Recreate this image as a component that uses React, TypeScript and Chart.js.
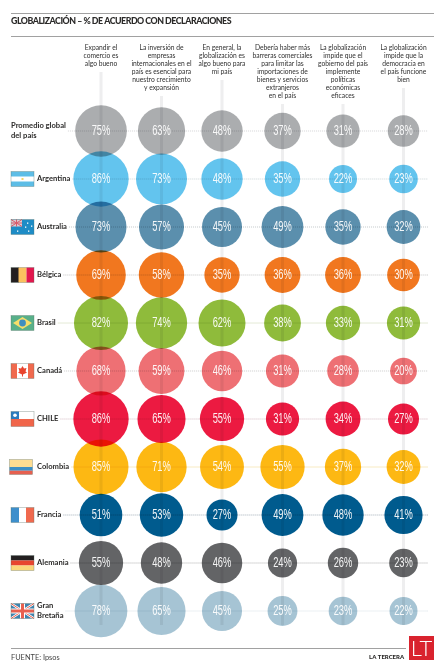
import React, { useEffect, useRef } from "react";
import { Chart, registerables } from "chart.js";

Chart.register(...registerables);

const questions: string[][] = [
  ["Expandir el", "comercio es", "algo bueno"],
  ["La inversión de", "empresas", "internacionales en el", "país es esencial para", "nuestro crecimiento", "y expansión"],
  ["En general, la", "globalización es", "algo bueno para", "mi país"],
  ["Debería haber más", "barreras comerciales", "para limitar las", "importaciones de", "bienes y servicios", "extranjeros", "en el país"],
  ["La globalización", "impide que el", "gobierno del país", "implemente", "políticas", "económicas", "eficaces"],
  ["La globalización", "impide que la", "democracia en", "el país funcione", "bien"],
];
const questionKeys = ["q1", "q2", "q3", "q4", "q5", "q6"];

const countries = ["Promedio global del país", "Argentina", "Australia", "Bélgica", "Brasil", "Canadá", "CHILE", "Colombia", "Francia", "Alemania", "Gran Bretaña"];

const promedio = [75, 63, 48, 37, 31, 28];
const argentina = [86, 73, 48, 35, 22, 23];
const australia = [73, 57, 45, 49, 35, 32];
const belgica = [69, 58, 35, 36, 36, 30];
const brasil = [82, 74, 62, 38, 33, 31];
const canada = [68, 59, 46, 31, 28, 20];
const chile = [86, 65, 55, 31, 34, 27];
const colombia = [85, 71, 54, 55, 37, 32];
const francia = [51, 53, 27, 49, 48, 41];
const alemania = [55, 48, 46, 24, 26, 23];
const granBretana = [78, 65, 45, 25, 23, 22];
const rows = [promedio, argentina, australia, belgica, brasil, canada, chile, colombia, francia, alemania, granBretana];

const colors = ["#ABADAF", "#63C4EE", "#5B8FAD", "#F1771F", "#8FBB3B", "#EE7074", "#EC1A41", "#FDB813", "#005B8E", "#636466", "#A6C4D4"];
const rowLabelLines = [["Promedio global", "del país"], ["Argentina"], ["Australia"], ["Bélgica"], ["Brasil"], ["Canadá"], ["CHILE"], ["Colombia"], ["Francia"], ["Alemania"], ["Gran", "Bretaña"]];
const lineColors = ["#C9CACC", "#BFC8CC", "#B5BABD", "#B5B5B5", "#DDE5CB", "#BDBDBD", "#C9A9B2", "#F6E6B4", "#8C9AA6", "#9A9A9A", "#CBD8DF"];
const lineDotted = [true, true, true, true, false, true, true, false, true, true, true];

const SANS = "Lato, 'Noto Sans', sans-serif";

function rect(c: CanvasRenderingContext2D, x: number, y: number, w: number, h: number, fill: string) {
  c.fillStyle = fill;
  c.fillRect(x, y, w, h);
}

function drawFlag(c: CanvasRenderingContext2D, i: number, x: number, y: number) {
  const w = 23;
  const h = 15;
  c.save();
  switch (i) {
    case 1:
      rect(c, x, y, w, h, "#5DBDE6");
      rect(c, x, y + 5, w, 5, "#FFFFFF");
      rect(c, x + 10.5, y + 6.5, 2, 2, "#F5D36B");
      break;
    case 2:
      rect(c, x, y, w, h, "#1E8CC6");
      rect(c, x, y, 11, 7, "#D9CBD2");
      c.strokeStyle = "#D85A6A";
      c.lineWidth = 1;
      c.beginPath();
      c.moveTo(x, y);
      c.lineTo(x + 11, y + 7);
      c.moveTo(x + 11, y);
      c.lineTo(x, y + 7);
      c.moveTo(x + 5.5, y);
      c.lineTo(x + 5.5, y + 7);
      c.moveTo(x, y + 3.5);
      c.lineTo(x + 11, y + 3.5);
      c.stroke();
      c.fillStyle = "#FFFFFF";
      [[16, 3], [20, 6], [17, 11], [14, 7], [6, 11]].forEach(([a, b]) => c.fillRect(x + a, y + b, 1.3, 1.3));
      break;
    case 3:
      rect(c, x, y, 8, h, "#231F20");
      rect(c, x + 7.5, y, 8, h, "#FBC05F");
      rect(c, x + 15.5, y, 7.5, h, "#E2174E");
      break;
    case 4:
      rect(c, x, y, w, h, "#58B08A");
      c.fillStyle = "#F7DE6A";
      c.beginPath();
      c.moveTo(x + 2, y + 7.5);
      c.lineTo(x + 11.5, y + 1.5);
      c.lineTo(x + 21, y + 7.5);
      c.lineTo(x + 11.5, y + 13.5);
      c.fill();
      c.fillStyle = "#3F8FC0";
      c.beginPath();
      c.arc(x + 11.5, y + 7.5, 3.4, 0, Math.PI * 2);
      c.fill();
      break;
    case 5:
      rect(c, x, y, w, h, "#FFFFFF");
      rect(c, x, y, 6, h, "#F06A4E");
      rect(c, x + 17, y, 6, h, "#F06A4E");
      c.fillStyle = "#E8452F";
      c.beginPath();
      c.moveTo(x + 11.5, y + 2.5);
      c.lineTo(x + 13, y + 5);
      c.lineTo(x + 15.5, y + 4.5);
      c.lineTo(x + 14.5, y + 8);
      c.lineTo(x + 16, y + 9);
      c.lineTo(x + 12, y + 11);
      c.lineTo(x + 12, y + 13);
      c.lineTo(x + 11, y + 13);
      c.lineTo(x + 11, y + 11);
      c.lineTo(x + 7, y + 9);
      c.lineTo(x + 8.5, y + 8);
      c.lineTo(x + 7.5, y + 4.5);
      c.lineTo(x + 10, y + 5);
      c.fill();
      break;
    case 6:
      rect(c, x, y, w, 7.5, "#FFFFFF");
      rect(c, x, y + 7.5, w, 7.5, "#F0654A");
      rect(c, x, y, 8, 7.5, "#2A7CBF");
      c.fillStyle = "#FFFFFF";
      c.beginPath();
      c.arc(x + 4, y + 3.7, 1.8, 0, Math.PI * 2);
      c.fill();
      break;
    case 7:
      rect(c, x - 1.5, y, w, 7.5, "#FDDD92");
      rect(c, x - 1.5, y + 7.5, w, 3.75, "#3D8FC4");
      rect(c, x - 1.5, y + 11.25, w, 3.75, "#E6604F");
      break;
    case 8:
      rect(c, x, y, 8, h, "#3D8FCC");
      rect(c, x + 8, y, 7, h, "#FFFFFF");
      rect(c, x + 15, y, 8, h, "#F0694E");
      break;
    case 9:
      rect(c, x, y, w, 5, "#231F20");
      rect(c, x, y + 5, w, 5, "#E8452F");
      rect(c, x, y + 10, w, 5, "#FBD67B");
      break;
    case 10:
      rect(c, x, y, w, h, "#3E83AE");
      c.strokeStyle = "#FFFFFF";
      c.lineWidth = 2.4;
      c.beginPath();
      c.moveTo(x, y);
      c.lineTo(x + w, y + h);
      c.moveTo(x + w, y);
      c.lineTo(x, y + h);
      c.stroke();
      c.strokeStyle = "#E8604F";
      c.lineWidth = 1;
      c.stroke();
      rect(c, x + 9, y, 5, h, "#FFFFFF");
      rect(c, x, y + 5, w, 5, "#FFFFFF");
      rect(c, x + 10, y, 3, h, "#E8604F");
      rect(c, x, y + 6, w, 3, "#E8604F");
      break;
    default:
      break;
  }
  if (i !== 0) {
    c.strokeStyle = "rgba(90,110,100,0.55)";
    c.lineWidth = 0.6;
    c.strokeRect(i === 7 ? x - 1.5 : x, y, w, h);
  }
  c.restore();
}

const furniture = {
  id: "furniture",
  beforeDraw(chart: Chart) {
    const c = chart.ctx;
    c.save();
    rect(c, 0, 0, 441, 667, "#FFFFFF");
    rect(c, 11, 13, 423, 0.8, "#8A8A8A");
    rect(c, 11, 36, 423, 0.8, "#8A8A8A");
    rect(c, 11, 648, 395, 0.8, "#8A8A8A");
    c.textBaseline = "middle";
    c.fillStyle = "#2B2A29";
    c.font = `900 8.8px ${SANS}`;
    (c as any).letterSpacing = "-0.48px";
    c.fillText("GLOBALIZACIÓN – % DE ACUERDO CON DECLARACIONES", 11, 21);
    (c as any).letterSpacing = "0px";
    c.font = `400 7.4px ${SANS}`;
    c.fillStyle = "#444444";
    c.fillText("FUENTE: Ipsos", 11, 657.5);
    c.font = `900 6px ${SANS}`;
    c.fillStyle = "#2B2A29";
    c.fillText("LA TERCERA", 369, 657.5);
    rect(c, 409, 636, 25, 24, "#D9232E");
    c.font = `300 22px ${SANS}`;
    c.fillStyle = "#FFFFFF";
    c.textAlign = "center";
    c.fillText("LT", 421.5, 649);
    c.restore();

    // row lines, flags and names follow the y scale
    const y = chart.scales.y;
    const xs = chart.scales.x;
    c.save();
    countries.forEach((name, i) => {
      const py = y.getPixelForValue(i);
      const lines = rowLabelLines[i];
      const lx = i === 0 ? 11 : 37;
      c.font = `700 7.6px ${SANS}`;
      const tw = Math.max(...lines.map((t) => c.measureText(t).width));
      c.strokeStyle = lineColors[i];
      c.lineWidth = 0.8;
      c.setLineDash(lineDotted[i] ? [1, 1] : []);
      c.beginPath();
      c.moveTo(lx + tw + 2, py);
      c.lineTo(428, py);
      c.stroke();
      c.setLineDash([]);
      drawFlag(c, i, 11, py - 7.5);
      c.fillStyle = "#2B2A29";
      c.textBaseline = "middle";
      c.textAlign = "left";
      lines.forEach((t, k) => c.fillText(t, lx, py + (k - (lines.length - 1) / 2) * 10.5 - 0.5));
    });
    c.restore();

    // pale vertical bands start under each question's last text line
    c.save();
    c.strokeStyle = "#EEEEEF";
    c.lineWidth = 3;
    const bottomPx = y.getPixelForValue(countries.length - 1) + 14;
    questionKeys.forEach((k, i) => {
      const px = xs.getPixelForValue(i);
      c.beginPath();
      c.moveTo(px, 43 + questions[i].length * 8 + 5);
      c.lineTo(px, bottomPx);
      c.stroke();
    });
    c.restore();
  },
  beforeDatasetDraw(chart: Chart) {
    chart.ctx.save();
    chart.ctx.globalCompositeOperation = "multiply";
  },
  afterDatasetDraw(chart: Chart) {
    chart.ctx.restore();
  },
  afterDatasetsDraw(chart: Chart) {
    const c = chart.ctx;
    c.save();
    c.fillStyle = "rgba(255,255,255,0.93)";
    c.font = "400 14.6px 'Liberation Sans', sans-serif";
    c.textAlign = "center";
    c.textBaseline = "middle";
    rows.forEach((vals, r) => {
      const meta = chart.getDatasetMeta(r);
      vals.forEach((v, q) => {
        const el = meta.data[q] as any;
        c.save();
        c.translate(el.x, el.y);
        c.scale(0.64, 1);
        c.fillText(`${v}%`, 0, -0.5);
        c.restore();
      });
    });
    c.restore();
  },
};

export default function App() {
  const ref = useRef<HTMLCanvasElement>(null);
  useEffect(() => {
    const chart = new Chart(ref.current!, {
      type: "bubble",
      data: {
        datasets: rows.map((vals, r) => ({
          label: countries[r],
          data: vals.map((v, q) => ({ x: questionKeys[q], y: countries[r], r: Math.sqrt(v * 8.9) })),
          backgroundColor: colors[r],
          borderWidth: 0,
          hoverBorderWidth: 0,
          clip: false,
        })) as any,
      },
      options: {
        animation: false,
        responsive: false,
        events: [],
        layout: { autoPadding: false, padding: { left: 70.75, right: 7.25, top: 0, bottom: 32 } },
        plugins: { legend: { display: false }, tooltip: { enabled: false } },
        scales: {
          x: {
            type: "category",
            labels: questionKeys,
            position: "top",
            offset: true,
            border: { display: false },
            grid: { display: false, drawTicks: false },
            afterFit: (s: any) => {
              s.height = 107;
            },
            ticks: {
              autoSkip: false,
              maxRotation: 0,
              minRotation: 0,
              crossAlign: "far",
              padding: 7.5,
              color: "#2F2F2F",
              font: { family: SANS, size: 6.7, weight: 400, lineHeight: 8 / 6.7 },
              callback: (_v: any, i: number) => questions[i],
            },
          },
          y: {
            type: "category",
            labels: countries,
            offset: true,
            display: false,
          },
        },
      } as any,
      plugins: [furniture as any],
    });
    return () => chart.destroy();
  }, []);
  return (
    <div style={{ position: "absolute", left: 0, top: 0, width: 441, height: 667 }}>
      <canvas ref={ref} width={441} height={667} style={{ display: "block" }} />
    </div>
  );
}
